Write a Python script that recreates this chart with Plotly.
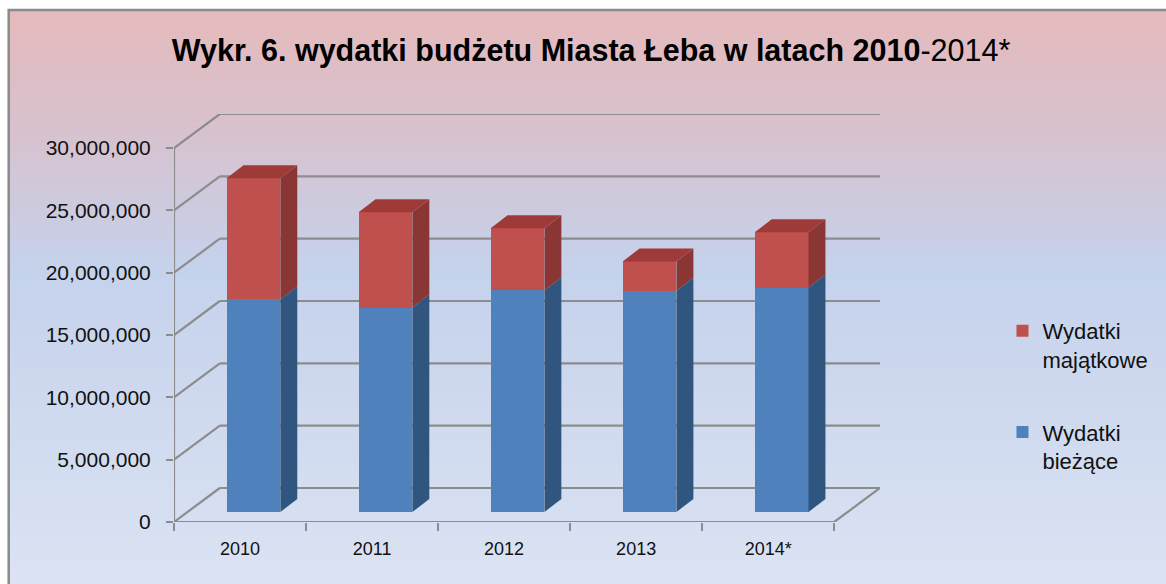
import plotly.graph_objects as go

# ---------------- data ----------------
years = ["2010", "2011", "2012", "2013", "2014*"]
wydatki_biezace = [17.05e6, 16.4e6, 17.77e6, 17.75e6, 18.0e6]
wydatki_majatkowe = [9.73e6, 7.65e6, 4.99e6, 2.35e6, 4.44e6]
y_ticks = [0, 5e6, 10e6, 15e6, 20e6, 25e6, 30e6]
y_max = 30e6

# ---------------- geometry (page pixels; body margin removed) ----------------
W, H = 1166, 584
L, R, T, B = 174, 883, 114, 522   # plot area in px
front_w = 837 - 174
front_h = 522 - 148
ppx = front_w / len(years)
ppy = front_h / y_max
xr = (R - L) / ppx
yr = (B - T) / ppy

DX, DY = 46 / ppx, 34 / ppy
BOX, BOY = 13.5 / ppx, 10 / ppy
BDX, BDY = 17 / ppx, 13 / ppy
BW = 54 / ppx

FONT = "Liberation Sans, Arial, sans-serif"
GRID = "#8c8c8c"

BLUE, BLUE_SIDE = "#4f81bd", "#30557f"
RED, RED_SIDE, RED_TOP = "#c0504d", "#8a3634", "#9e3b39"


def px_x(px):  # px -> paper coord
    return (px - L) / (R - L)


def px_y(py):
    return (B - py) / (B - T)


shapes = []

# ---- background gradient (stripes) ----
stops = [(10, (229, 186, 187)), (130, (216, 193, 206)), (270, (197, 210, 236)), (584, (219, 227, 243))]


def col_at(py):
    for (y0, c0), (y1, c1) in zip(stops[:-1], stops[1:]):
        if py <= y1:
            t = max(0.0, (py - y0) / (y1 - y0))
            return "rgb(%d,%d,%d)" % tuple(round(a + (b - a) * t) for a, b in zip(c0, c1))
    return "rgb(%d,%d,%d)" % stops[-1][1]


step = 4
py = 10
while py < H + 10:
    shapes.append(dict(type="rect", xref="paper", yref="paper", layer="below",
                       x0=px_x(8), x1=px_x(W + 20), y0=px_y(py), y1=px_y(py + step + 0.6),
                       fillcolor=col_at(py + step / 2), line=dict(width=0)))
    py += step

# outer border
shapes.append(dict(type="rect", xref="paper", yref="paper", layer="below",
                   x0=px_x(8), x1=px_x(W + 30), y0=px_y(H + 30), y1=px_y(10),
                   fillcolor="rgba(0,0,0,0)", line=dict(color="#8a8a8a", width=2.5)))

# ---- 3D walls / gridlines ----
for v in y_ticks:
    shapes.append(dict(type="line", xref="x", yref="y", layer="below",
                       x0=DX, x1=len(years) + DX, y0=v + DY, y1=v + DY,
                       line=dict(color=GRID, width=2.2)))
    shapes.append(dict(type="line", xref="x", yref="y", layer="below",
                       x0=0, x1=DX, y0=v, y1=v + DY,
                       line=dict(color=GRID, width=2.2)))
shapes.append(dict(type="line", xref="x", yref="y", layer="below",
                   x0=0, x1=0, y0=0, y1=y_max, line=dict(color=GRID, width=2.2)))
shapes.append(dict(type="line", xref="x", yref="y", layer="below",
                   x0=0, x1=len(years), y0=0, y1=0, line=dict(color=GRID, width=2.2)))
shapes.append(dict(type="line", xref="x", yref="y", layer="below",
                   x0=len(years), x1=len(years) + DX, y0=0, y1=DY, line=dict(color=GRID, width=2.2)))

# ---- bar positions ----
bar_x = [i + 0.5 + BOX for i in range(len(years))]
base_blue = [BOY] * len(years)
base_red = [BOY + b for b in wydatki_biezace]
tops = [BOY + b + m for b, m in zip(wydatki_biezace, wydatki_majatkowe)]


def quad(pts, color):
    path = "M " + " L ".join("%f,%f" % p for p in pts) + " Z"
    return dict(type="path", xref="x", yref="y", layer="above", path=path,
                fillcolor=color, line=dict(width=0))


for xc, b0, b1, t in zip(bar_x, base_blue, base_red, tops):
    x1 = xc + BW / 2
    x0 = xc - BW / 2
    shapes.append(quad([(x1, b0), (x1 + BDX, b0 + BDY), (x1 + BDX, b1 + BDY), (x1, b1)], BLUE_SIDE))
    shapes.append(quad([(x1, b1), (x1 + BDX, b1 + BDY), (x1 + BDX, t + BDY), (x1, t)], RED_SIDE))
    shapes.append(quad([(x0, t), (x0 + BDX, t + BDY), (x1 + BDX, t + BDY), (x1, t)], RED_TOP))

fig = go.Figure()
fig.add_trace(go.Bar(x=bar_x, y=wydatki_majatkowe, base=base_red, width=BW,
                     name="Wydatki<br>majątkowe", legendgroup="m",
                     marker=dict(color=RED, line=dict(width=0))))
fig.add_trace(go.Bar(x=bar_x, y=wydatki_biezace, base=base_blue, width=BW,
                     name="Wydatki<br>bieżące", legendgroup="b",
                     marker=dict(color=BLUE, line=dict(width=0))))

fig.update_layout(
    width=W, height=H,
    margin=dict(l=L, r=W - R, t=T, b=H - B, pad=0),
    paper_bgcolor="white", plot_bgcolor="rgba(0,0,0,0)",
    barmode="overlay",
    shapes=shapes,
    showlegend=True,
    font=dict(family=FONT, color="#111111", size=20),
    title=dict(text="<b>Wykr. 6. wydatki budżetu Miasta Łeba w latach 2010</b>-2014*",
               x=591 / W, xanchor="center", y=1 - 50 / H, yanchor="middle",
               font=dict(family=FONT, size=30.5, color="#000000")),
    legend=dict(x=px_x(1006), xanchor="left", y=px_y(310), yanchor="top",
                traceorder="grouped", tracegroupgap=41, valign="top",
                bgcolor="rgba(0,0,0,0)", font=dict(family=FONT, size=22, color="#111111")),
    xaxis=dict(range=[0, xr], showgrid=False, zeroline=False, showline=False,
               tickmode="array", tickvals=[i + 0.5 for i in range(len(years))], ticktext=years,
               ticks="", ticklabelstandoff=14, tickfont=dict(size=18),
               minor=dict(tickmode="array", tickvals=list(range(len(years) + 1)),
                          ticks="outside", ticklen=8, tickwidth=2, tickcolor=GRID),
               fixedrange=True),
    yaxis=dict(range=[0, yr], showgrid=False, zeroline=False, showline=False,
               tickmode="array", tickvals=y_ticks, tickformat=",d",
               ticks="outside", ticklen=7, tickwidth=2, tickcolor=GRID,
               ticklabelstandoff=11, tickfont=dict(size=21), fixedrange=True),
    bargap=0,
)

fig.write_html(
    "out.html",
    config={"displayModeBar": False},
    post_script="document.body.style.margin='0';document.documentElement.style.overflow='hidden';document.body.style.overflow='hidden';",
)
